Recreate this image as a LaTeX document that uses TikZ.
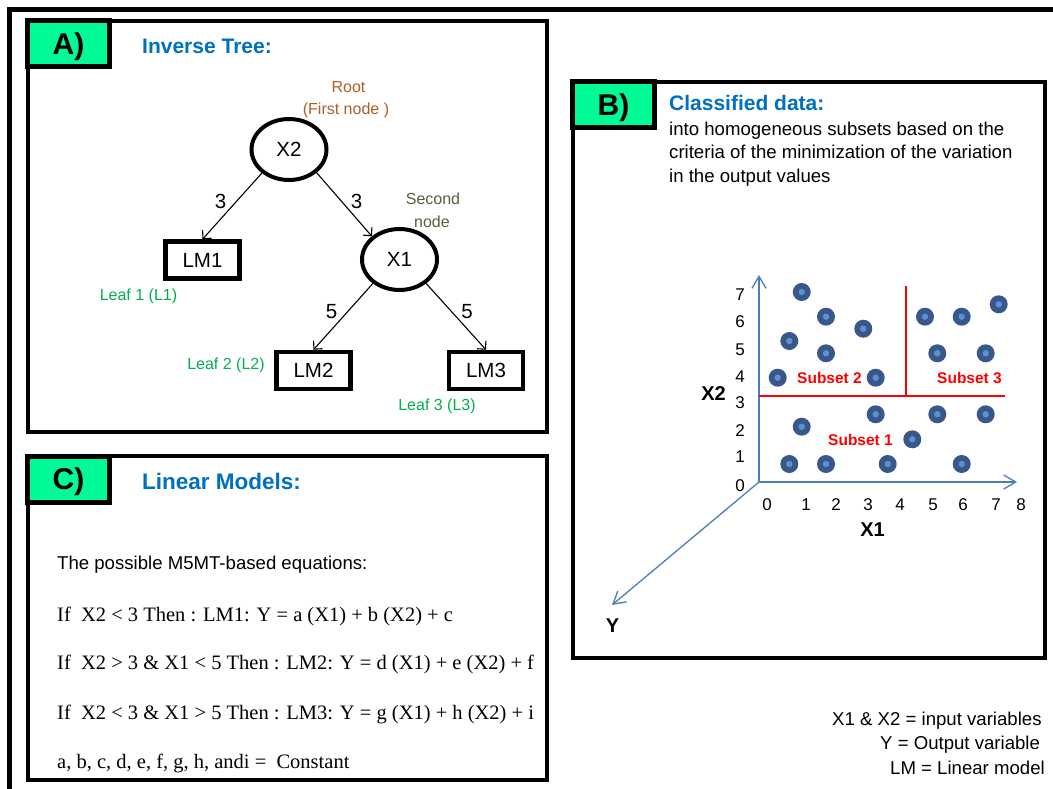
\documentclass[tikz,border=0pt]{standalone}
\usepackage{fontspec}
\setmainfont{Liberation Sans}
\newfontfamily\eqserif{Liberation Serif}
\usetikzlibrary{arrows.meta,shapes.geometric}

\definecolor{boxgreen}{RGB}{0,250,150}
\definecolor{headblue}{RGB}{0,112,192}
\definecolor{rootbrown}{RGB}{170,95,40}
\definecolor{secondcol}{RGB}{95,90,65}
\definecolor{leafgreen}{RGB}{0,176,80}
\definecolor{axisblue}{RGB}{74,126,187}
\definecolor{dotdark}{RGB}{56,88,140}
\definecolor{dotlight}{RGB}{95,145,205}
\definecolor{splitred}{RGB}{255,0,0}

\begin{document}
\begin{tikzpicture}[x=1pt,y=-1pt,
  panel/.style={draw, line width=4pt},
  labelbox/.style={draw, line width=5pt, fill=boxgreen, minimum width=82pt, minimum height=46pt, inner sep=0pt, text depth=0pt, font=\fontsize{30}{30}\selectfont\bfseries},
  heading/.style={anchor=west, text=headblue, inner sep=0pt, font=\fontsize{21}{25}\selectfont\bfseries},
  treenode/.style={ellipse, draw, line width=4pt, minimum width=75pt, minimum height=61pt, inner sep=0pt, font=\fontsize{20.5}{24}\selectfont},
  leafbox/.style={rectangle, draw, line width=4.5pt, minimum width=74pt, minimum height=37pt, inner sep=0pt, font=\fontsize{20.5}{24}\selectfont},
  treeedge/.style={line width=1.1pt, -{Straight Barb[length=6pt,width=12pt]}},
  edgelabel/.style={inner sep=0pt, font=\fontsize{20.5}{24}\selectfont},
  note/.style={inner sep=0pt, font=\fontsize{16}{19}\selectfont},
  body/.style={anchor=west, inner sep=0pt, yshift=-3.5pt, text height=0.74em, text depth=0.22em, font=\fontsize{18.6}{22}\selectfont},
  eqline/.style={anchor=west, inner sep=0pt, yshift=-3.5pt, text height=0.74em, text depth=0.22em, font=\eqserif\fontsize{20.5}{24}\selectfont},
  axisline/.style={draw=axisblue, line width=1.3pt, -{Straight Barb[length=12pt,width=14pt]}},
  ticklabel/.style={inner sep=0pt, font=\fontsize{17}{20}\selectfont},
  axislabel/.style={inner sep=0pt, font=\fontsize{20}{24}\selectfont\bfseries},
  subsetlabel/.style={inner sep=0pt, text=splitred, font=\fontsize{15.5}{18}\selectfont\bfseries},
  splitline/.style={draw=splitred, line width=1.4pt},
  datadot/.style={circle, fill=dotdark, minimum size=18pt, inner sep=0pt,
     path picture={\fill[dotlight] (path picture bounding box.center) circle (3.2pt);}}
]
\useasboundingbox (0,0) rectangle (1053,789);
\begin{scope}
  \clip (0,0) rectangle (1053,789);
  \draw[line width=5pt] (9.5,9.5) rectangle (1090,830);
\end{scope}

% ---------------- Panel A ----------------
\draw[panel] (27.5,21) rectangle (547,432);
\node[labelbox] (labA) at (68.5,44) {A)};
\node[heading] (headA) at (142,46) {Inverse Tree:};

\node[treenode] (X2) at (289,149.5) {X2};
\node[treenode] (X1) at (399.5,259.5) {X1};
\node[leafbox] (LM1) at (202.5,260) {LM1};
\node[leafbox] (LM2) at (313.5,370.5) {LM2};
\node[leafbox] (LM3) at (486,370.5) {LM3};

\draw[treeedge] (X2.221) -- (LM1.north);
\draw[treeedge] (X2.320) -- (X1.140);
\draw[treeedge] (X1.222) -- (LM2.north);
\draw[treeedge] (X1.318) -- (LM3.north);

\node[edgelabel] (e1) at (220.5,201.5) {3};
\node[edgelabel] (e2) at (356.5,201.5) {3};
\node[edgelabel] (e3) at (331.5,312) {5};
\node[edgelabel] (e4) at (467,312) {5};

\node[note, text=rootbrown] (root1) at (348.5,87.5) {Root};
\node[note, text=rootbrown] (root2) at (346,110.5) {(First node )};
\node[note, text=secondcol] (sec1) at (433,198.5) {Second};
\node[note, text=secondcol] (sec2) at (432,222) {node};
\node[note, text=leafgreen] (leaf1) at (138.5,296.5) {Leaf 1 (L1)};
\node[note, text=leafgreen] (leaf2) at (226,365) {Leaf 2 (L2)};
\node[note, text=leafgreen] (leaf3) at (437,406.5) {Leaf 3 (L3)};

% ---------------- Panel B ----------------
\draw[panel] (572.5,82) rectangle (1045,658);
\node[labelbox] (labB) at (613.5,104.5) {B)};
\node[heading] (headB) at (669,103) {Classified data:};
\node[body] (b1) at (669,129.3) {into homogeneous subsets based on the};
\node[body] (b2) at (669,152.7) {criteria of the minimization of the variation};
\node[body] (b3) at (669,176) {in the output values};

\coordinate (O) at (759,482);
\coordinate (Ytop) at (759,275);
\coordinate (Xend) at (1017,482);
\coordinate (Yend) at (612,605);
\draw[axisline] (O) -- (Ytop);
\draw[axisline] (O) -- (Xend);
\draw[axisline] (O) -- (Yend);

\foreach \n/\xx in {0/767,1/806,2/836,3/868,4/900,5/933,6/963,7/996,8/1021}
  \node[ticklabel] (tx\n) at (\xx,505) {\n};
\foreach \n/\yy in {0/485.5,1/457,2/431,3/403,4/377,5/349.5,6/322,7/295}
  \node[ticklabel] (ty\n) at (740,\yy) {\n};

\node[axislabel] (labX2) at (713.5,394) {X2};
\node[axislabel] (labX1) at (872.5,530) {X1};
\node[axislabel] (labY) at (612.5,626) {Y};

\coordinate (hL) at (759,396);
\coordinate (hR) at (1005,396);
\coordinate (vT) at (906,286);
\coordinate (vB) at (906,396);
\draw[splitline] (hL) -- (hR);
\draw[splitline] (vT) -- (vB);

\foreach \i/\px/\py in {1/801.7/292, 2/826/316.7, 3/863.3/328.7, 4/789.3/341, 5/826/353.3,
  6/777.7/377.7, 7/875.7/377.7, 8/925/316.7, 9/961.7/316.7, 10/998.7/304.3,
  11/937.3/353.3, 12/985.7/353.3, 13/875.7/414.3, 14/937.3/414.3, 15/985.7/414.3,
  16/801.7/426.7, 17/912.3/439.3, 18/789.3/464, 19/826/464, 20/887.7/464, 21/961.7/464}
  \node[datadot] (dot\i) at (\px,\py) {};

\node[subsetlabel] (sub2) at (829.5,377.5) {Subset 2};
\node[subsetlabel] (sub3) at (969.5,377.5) {Subset 3};
\node[subsetlabel] (sub1) at (860.5,440) {Subset 1};

% ---------------- Panel C ----------------
\draw[panel] (27.5,456) rectangle (547,780);
\node[labelbox] (labC) at (68.5,479) {C)};
\node[heading, font=\fontsize{22.5}{26}\selectfont\bfseries] (headC) at (142,481.5) {Linear Models:};

\node[body] (c0) at (57,563) {The possible M5MT-based equations:};
\node[eqline] (c1) at (57,615) {If\ \ X2 < 3 Then : LM1: Y = a (X1) + b (X2) + c};
\node[eqline] (c2) at (57,663) {If\ \ X2 > 3 \& X1 < 5 Then : LM2: Y = d (X1) + e (X2) + f};
\node[eqline] (c3) at (57,713) {If\ \ X2 < 3 \& X1 > 5 Then : LM3: Y = g (X1) + h (X2) + i};
\node[eqline] (c4) at (57,762) {a, b, c, d, e, f, g, h, andi =\ \ Constant};

% ---------------- Legend ----------------
\node[body] (g1) at (832,719) {X1 \& X2 = input variables};
\node[body] (g2) at (880,743.5) {Y = Output variable};
\node[body] (g3) at (890,768) {LM = Linear model};
\end{tikzpicture}
\end{document}
